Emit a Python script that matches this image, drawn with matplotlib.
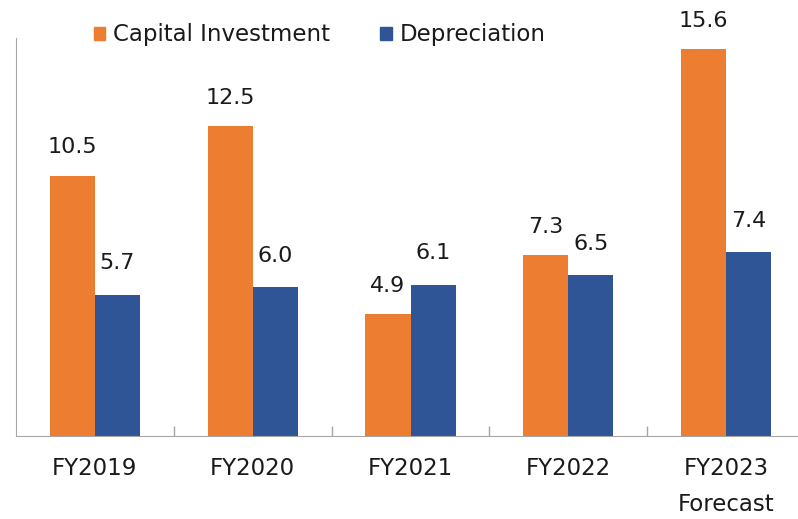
import matplotlib.pyplot as plt
import numpy as np
from matplotlib.patches import Patch

years = ['FY2019', 'FY2020', 'FY2021', 'FY2022', 'FY2023\nForecast']
capital_investment = [10.5, 12.5, 4.9, 7.3, 15.6]
depreciation = [5.7, 6.0, 6.1, 6.5, 7.4]

orange = '#ED7D31'
blue = '#2F5597'
axis_grey = '#A6A6A6'
txt = '#1a1a1a'

fig = plt.figure(figsize=(7.98, 5.19), dpi=100)
# axes placed in pixel terms, right end runs past the figure edge like the original
ax = fig.add_axes([16/798, 83/519, 789/798, 398/519])

x = np.arange(len(years))
w = 0.286
ax.bar(x - w/2, capital_investment, w, color=orange)
ax.bar(x + w/2, depreciation, w, color=blue)

for xi, v in zip(x, capital_investment):
    ax.annotate(f'{v:.1f}', (xi - w/2, v), xytext=(0, 20.5), textcoords='offset points',
                ha='center', va='center', fontsize=16, color=txt)
for xi, v in zip(x, depreciation):
    ax.annotate(f'{v:.1f}', (xi + w/2, v), xytext=(0, 22.5), textcoords='offset points',
                ha='center', va='center', fontsize=16, color=txt)

ax.set_xlim(-0.5, len(years) - 0.5)
ax.set_ylim(0, 16.05)

ax.set_xticks(x)
ax.set_xticklabels(years, fontsize=16.5, color=txt, linespacing=1.75)
ax.tick_params(axis='x', which='major', length=0, pad=15)
ax.set_xticks(x[:-1] + 0.5, minor=True)
ax.tick_params(axis='x', which='minor', direction='in', length=7, color=axis_grey, width=1)
ax.set_yticks([])

for s in ['top', 'right']:
    ax.spines[s].set_visible(False)
ax.spines['left'].set_color(axis_grey)
ax.spines['bottom'].set_color(axis_grey)

handles = [Patch(color=orange, label='Capital Investment'),
           Patch(color=blue, label='Depreciation')]
ax.legend(handles=handles, loc='center', bbox_to_anchor=(0.385, 1.008), ncol=2,
          frameon=False, fontsize=16.5, handlelength=0.5, handleheight=0.5,
          handletextpad=0.35, columnspacing=2.2, borderaxespad=0, labelcolor=txt)

fig.savefig('out.png', dpi=100)
